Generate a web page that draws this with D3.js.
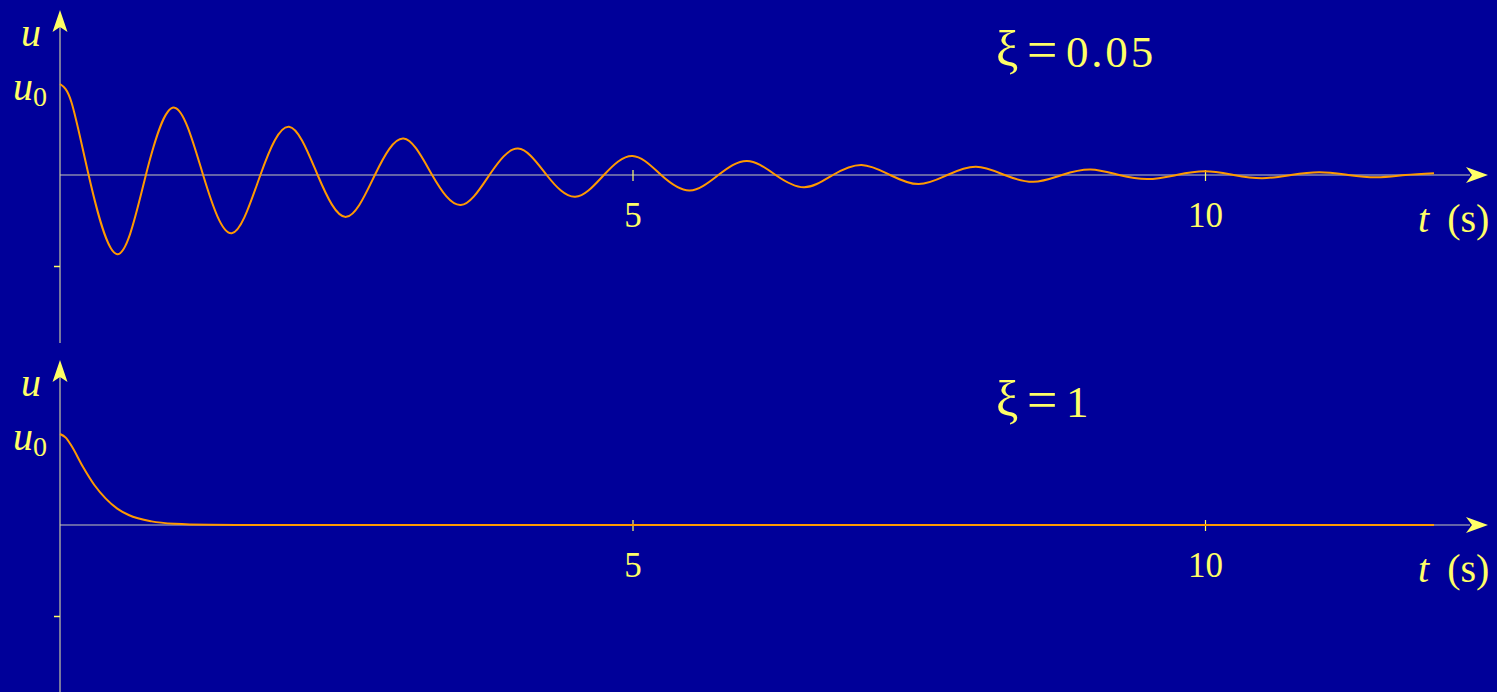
<!DOCTYPE html>
<html>
<head>
<meta charset="utf-8">
<script src="https://cdn.jsdelivr.net/npm/d3@7.9.0/dist/d3.min.js"></script>
<style>
  html, body { margin: 0; padding: 0; background: #000099; }
  svg { display: block; }
  text { font-family: "Liberation Serif", "Times New Roman", serif; fill: #ffff66; }
</style>
</head>
<body>
<svg id="chart" width="1497" height="692"></svg>
<script>
// values (t in seconds, u as a fraction of u0)
const tLight = [0, 0.1, 0.25, 0.5, 0.75, 1, 1.25, 1.5, 1.75, 2, 2.25, 2.5, 2.75, 3, 3.25, 3.5, 3.75,
  4, 4.25, 4.5, 4.75, 5, 5.25, 5.5, 5.75, 6, 6.25, 6.5, 6.75, 7, 7.25, 7.5, 7.75, 8, 8.25, 8.5,
  8.75, 9, 9.25, 9.5, 9.75, 10, 10.25, 10.5, 10.75, 11, 11.25, 11.5, 11.75, 12];
const uLight = [1, 0.8, 0, -0.87, 0, 0.74, 0, -0.64, 0, 0.53, 0, -0.46, 0, 0.4, 0, -0.33, 0,
  0.29, 0, -0.24, 0, 0.21, 0, -0.17, 0, 0.155, 0, -0.135, 0, 0.11, 0, -0.1, 0, 0.09, 0, -0.075,
  0, 0.06, 0, -0.045, 0, 0.04, 0, -0.035, 0, 0.03, 0, -0.025, 0, 0.02];

const tCritical = [0, 0.05, 0.1, 0.2, 0.3, 0.4, 0.5, 0.6, 0.8, 1.0, 1.3, 1.6, 2.0, 12];
const uCritical = [1, 0.96, 0.87, 0.64, 0.44, 0.29, 0.18, 0.11, 0.04, 0.014, 0.003, 0.001, 0, 0];

const xTicks = [5, 10];
const dampingLabels = ["0.05", "1"];

const W = 1497, H = 692;
const svg = d3.select('#chart');
const x = d3.scaleLinear().domain([0, 10]).range([60, 1205]);

const panels = [
  { top: 0, t: tLight, u: uLight, xi: dampingLabels[0], curve: d3.curveNatural, yEnd: 343 },
  { top: 350, t: tCritical, u: uCritical, xi: dampingLabels[1], curve: d3.curveMonotoneX, yEnd: H }
];

panels.forEach(p => {
  const g = svg.append('g');
  const y = d3.scaleLinear().domain([-1, 1]).range([p.top + 266, p.top + 84]);
  const y0 = y(0);

  // y axis
  g.append('line')
    .attr('x1', x(0)).attr('x2', x(0))
    .attr('y1', p.top + 26).attr('y2', p.yEnd)
    .attr('stroke', '#a0a0a0').attr('stroke-width', 1.5);
  g.append('path')
    .attr('d', `M${x(0)},${p.top + 10} L${x(0) + 7.5},${p.top + 32} L${x(0)},${p.top + 27} L${x(0) - 7.5},${p.top + 32} Z`)
    .attr('fill', '#ffff66');

  const yAxis = g.append('g')
    .attr('transform', `translate(${x(0)},0)`)
    .call(d3.axisLeft(y).tickValues([-1]).tickSize(6).tickFormat(''));
  yAxis.select('.domain').remove();
  yAxis.selectAll('line').attr('stroke', '#ffff66').attr('stroke-width', 1.5);

  // x axis
  const xEnd = 1470;
  g.append('line')
    .attr('x1', x(0)).attr('x2', xEnd)
    .attr('y1', y0).attr('y2', y0)
    .attr('stroke', '#c8c8b8').attr('stroke-width', 1.2);
  g.append('path')
    .attr('d', `M1488,${y0} L1466,${y0 - 8} L1472,${y0} L1466,${y0 + 8} Z`)
    .attr('fill', '#ffff66');

  const xAxis = g.append('g')
    .attr('transform', `translate(0,${y0})`)
    .call(d3.axisBottom(x).tickValues(xTicks).tickSize(6).tickFormat(d3.format('d')));
  xAxis.select('.domain').remove();
  xAxis.selectAll('.tick line')
    .attr('y1', -5).attr('y2', 6)
    .attr('stroke', '#ffff66').attr('stroke-width', 1.2);
  xAxis.selectAll('.tick text')
    .attr('y', 52).attr('dy', null)
    .attr('fill', '#ffff66')
    .style('font-family', '"Liberation Serif", serif')
    .style('font-size', '35px');

  // curve
  const pts = p.t.map((t, i) => [t, p.u[i]]);
  g.append('path')
    .datum(pts)
    .attr('fill', 'none')
    .attr('stroke', '#ff9900')
    .attr('stroke-width', 2)
    .attr('d', d3.line().x(d => x(d[0])).y(d => y(d[1])).curve(p.curve));

  // labels
  g.append('text')
    .attr('x', 31).attr('y', p.top + 46)
    .attr('text-anchor', 'middle')
    .style('font-style', 'italic').style('font-size', '40px')
    .text('u');

  const u0 = g.append('text')
    .attr('x', 13).attr('y', p.top + 100)
    .style('font-size', '40px');
  u0.append('tspan').style('font-style', 'italic').text('u');
  u0.append('tspan').attr('dy', 6).style('font-size', '28px').text('0');

  g.append('text')
    .attr('x', 996).attr('y', p.top + 66)
    .style('font-size', '50px')
    .text('ξ');
  g.append('text')
    .attr('x', 1027).attr('y', p.top + 68)
    .style('font-size', '54px')
    .text('=');
  g.append('text')
    .attr('x', 1066).attr('y', p.top + 67)
    .style('font-size', '45px').style('letter-spacing', '2.8px')
    .text(p.xi);

  const tl = g.append('text')
    .attr('x', 1418).attr('y', p.top + 232)
    .style('font-size', '40px');
  tl.append('tspan').style('font-style', 'italic').text('t');
  tl.append('tspan').attr('dx', 18).text('(s)');
});
</script>
</body>
</html>
